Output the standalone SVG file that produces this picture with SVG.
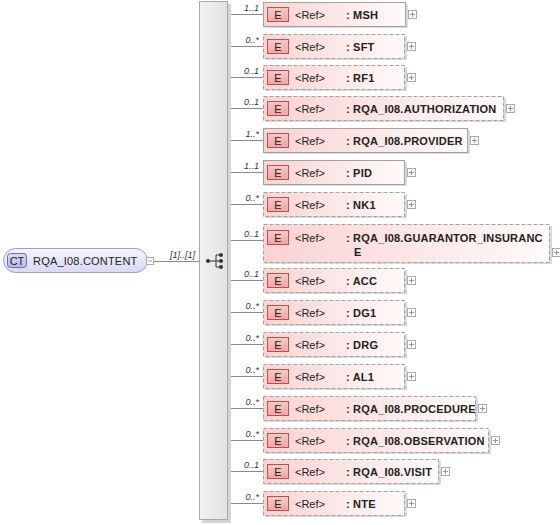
<svg xmlns="http://www.w3.org/2000/svg" width="560" height="525" viewBox="0 0 560 525">
<defs>
<linearGradient id="gEl" x1="0" y1="0" x2="1" y2="0"><stop offset="0" stop-color="#fbd2d2"/><stop offset="1" stop-color="#fffafa"/></linearGradient>
<linearGradient id="gBadge" x1="0" y1="0" x2="0" y2="1"><stop offset="0" stop-color="#f8caca"/><stop offset="1" stop-color="#f2a4a4"/></linearGradient>
<linearGradient id="gCT" x1="0" y1="0" x2="0" y2="1"><stop offset="0" stop-color="#f4f4ff"/><stop offset="1" stop-color="#d8d8f6"/></linearGradient>
<linearGradient id="gCTb" x1="0" y1="0" x2="0" y2="1"><stop offset="0" stop-color="#dcdcf8"/><stop offset="1" stop-color="#b8b8ea"/></linearGradient>
<linearGradient id="gBar" x1="0" y1="0" x2="1" y2="0"><stop offset="0" stop-color="#f2f2f2"/><stop offset="1" stop-color="#e2e2e2"/></linearGradient>
</defs>
<style>
.sh{fill:#d9d9d9}
.box{fill:url(#gEl);stroke:#a2a2a2;stroke-width:1}
.opt{stroke-dasharray:4,2}
.bd{fill:url(#gBadge);stroke:#b05454;stroke-width:1}
.bt{font-family:"Liberation Sans",Arial,sans-serif;font-size:11px;fill:#222;text-anchor:middle}
.ref{font-family:"Liberation Sans",Arial,sans-serif;font-size:11px;fill:#222}
.nm{font-family:"Liberation Sans",Arial,sans-serif;font-size:11px;font-weight:bold;fill:#222;letter-spacing:0.2px}
.mu{font-family:"Liberation Sans",Arial,sans-serif;font-size:9px;font-style:italic;fill:#333;text-anchor:end}
.pl{fill:#fff;stroke:#aaa;stroke-width:1}
.pm{stroke:#999;stroke-width:1}
.ln{stroke:#8a8a8a;stroke-width:1;fill:none}
</style>

<g id="connectors">
<line class="ln" x1="154" y1="261.5" x2="199" y2="261.5"/>
<text class="mu" x="195" y="258">[1]..[1]</text>
<line class="ln" x1="228" y1="14.5" x2="263" y2="14.5"/>
<line class="ln" x1="228" y1="46.5" x2="263" y2="46.5"/>
<line class="ln" x1="228" y1="77.5" x2="263" y2="77.5"/>
<line class="ln" x1="228" y1="108.5" x2="263" y2="108.5"/>
<line class="ln" x1="228" y1="140.5" x2="263" y2="140.5"/>
<line class="ln" x1="228" y1="172.5" x2="263" y2="172.5"/>
<line class="ln" x1="228" y1="204.5" x2="263" y2="204.5"/>
<line class="ln" x1="228" y1="240.5" x2="263" y2="240.5"/>
<line class="ln" x1="228" y1="280.5" x2="263" y2="280.5"/>
<line class="ln" x1="228" y1="312.5" x2="263" y2="312.5"/>
<line class="ln" x1="228" y1="344.5" x2="263" y2="344.5"/>
<line class="ln" x1="228" y1="376.5" x2="263" y2="376.5"/>
<line class="ln" x1="228" y1="408.5" x2="263" y2="408.5"/>
<line class="ln" x1="228" y1="440.5" x2="263" y2="440.5"/>
<line class="ln" x1="228" y1="471.5" x2="263" y2="471.5"/>
<line class="ln" x1="228" y1="503.5" x2="263" y2="503.5"/>
<text class="mu" x="259" y="11">1..1</text>
<text class="mu" x="259" y="43">0..*</text>
<text class="mu" x="259" y="74">0..1</text>
<text class="mu" x="259" y="105">0..1</text>
<text class="mu" x="259" y="137">1..*</text>
<text class="mu" x="259" y="169">1..1</text>
<text class="mu" x="259" y="201">0..*</text>
<text class="mu" x="259" y="237">0..1</text>
<text class="mu" x="259" y="277">0..1</text>
<text class="mu" x="259" y="309">0..*</text>
<text class="mu" x="259" y="341">0..*</text>
<text class="mu" x="259" y="373">0..*</text>
<text class="mu" x="259" y="405">0..*</text>
<text class="mu" x="259" y="437">0..*</text>
<text class="mu" x="259" y="468">0..1</text>
<text class="mu" x="259" y="500">0..*</text>
</g>

<g id="ct">
<rect x="3.5" y="248.5" width="144" height="24" rx="12" fill="url(#gCT)" stroke="#9d9dc9"/>
<rect x="7.5" y="253.5" width="19" height="14" rx="3" fill="url(#gCTb)" stroke="#6e6eae"/>
<text class="bt" x="17" y="264.5">CT</text>
<text class="ref" x="33" y="265" font-size="11.5" letter-spacing="0.2">RQA_I08.CONTENT</text>
<rect x="146.5" y="257.5" width="7" height="7" class="pl"/>
<line class="pm" x1="148" y1="261" x2="152" y2="261"/>
</g>

<g id="sequence">
<rect x="202" y="4" width="29" height="519" fill="#d5d5d5"/>
<rect x="199.5" y="1.5" width="28" height="518" fill="url(#gBar)" stroke="#a8a8a8"/>
<line x1="208" y1="261" x2="216" y2="261" stroke="#333"/>
<line x1="216" y1="255" x2="216" y2="267" stroke="#333"/>
<line x1="216" y1="255" x2="221" y2="255" stroke="#333"/>
<line x1="216" y1="261" x2="221" y2="261" stroke="#333"/>
<line x1="216" y1="267" x2="221" y2="267" stroke="#333"/>
<circle cx="208" cy="261" r="2" fill="#333"/>
<circle cx="221" cy="255" r="2" fill="#333"/>
<circle cx="221" cy="261" r="2" fill="#333"/>
<circle cx="221" cy="267" r="2" fill="#333"/>
</g>

<g id="msh">
<rect class="sh" x="265" y="4" width="143" height="24"/>
<rect class="box" x="263.5" y="2.5" width="142" height="24"/>
<rect class="bd" x="267.5" y="7.5" width="21" height="14"/>
<text class="bt" x="278" y="18.5">E</text>
<text class="ref" x="295" y="18.5">&lt;Ref&gt;</text>
<text class="nm" x="346" y="18.5">: MSH</text>
<rect class="pl" x="408.5" y="10.5" width="8" height="8"/>
<path class="pm" d="M410 14.5h5M412.5 12v5"/>
</g>

<g id="sft">
<rect class="sh" x="265" y="36" width="142" height="24"/>
<rect class="box opt" x="263.5" y="34.5" width="141" height="24"/>
<rect class="bd" x="267.5" y="39.5" width="21" height="14"/>
<text class="bt" x="278" y="50.5">E</text>
<text class="ref" x="295" y="50.5">&lt;Ref&gt;</text>
<text class="nm" x="346" y="50.5">: SFT</text>
<rect class="pl" x="407.5" y="42.5" width="8" height="8"/>
<path class="pm" d="M409 46.5h5M411.5 44v5"/>
</g>

<g id="rf1">
<rect class="sh" x="265" y="67" width="142" height="24"/>
<rect class="box opt" x="263.5" y="65.5" width="141" height="24"/>
<rect class="bd" x="267.5" y="70.5" width="21" height="14"/>
<text class="bt" x="278" y="81.5">E</text>
<text class="ref" x="295" y="81.5">&lt;Ref&gt;</text>
<text class="nm" x="346" y="81.5">: RF1</text>
<rect class="pl" x="407.5" y="73.5" width="8" height="8"/>
<path class="pm" d="M409 77.5h5M411.5 75v5"/>
</g>

<g id="authorization">
<rect class="sh" x="265" y="98" width="241" height="24"/>
<rect class="box opt" x="263.5" y="96.5" width="240" height="24"/>
<rect class="bd" x="267.5" y="101.5" width="21" height="14"/>
<text class="bt" x="278" y="112.5">E</text>
<text class="ref" x="295" y="112.5">&lt;Ref&gt;</text>
<text class="nm" x="346" y="112.5">: RQA_I08.AUTHORIZATION</text>
<rect class="pl" x="506.5" y="104.5" width="8" height="8"/>
<path class="pm" d="M508 108.5h5M510.5 106v5"/>
</g>

<g id="provider">
<rect class="sh" x="265" y="130" width="205" height="24"/>
<rect class="box" x="263.5" y="128.5" width="204" height="24"/>
<rect class="bd" x="267.5" y="133.5" width="21" height="14"/>
<text class="bt" x="278" y="144.5">E</text>
<text class="ref" x="295" y="144.5">&lt;Ref&gt;</text>
<text class="nm" x="346" y="144.5">: RQA_I08.PROVIDER</text>
<rect class="pl" x="470.5" y="136.5" width="8" height="8"/>
<path class="pm" d="M472 140.5h5M474.5 138v5"/>
</g>

<g id="pid">
<rect class="sh" x="265" y="162" width="142" height="24"/>
<rect class="box" x="263.5" y="160.5" width="141" height="24"/>
<rect class="bd" x="267.5" y="165.5" width="21" height="14"/>
<text class="bt" x="278" y="176.5">E</text>
<text class="ref" x="295" y="176.5">&lt;Ref&gt;</text>
<text class="nm" x="346" y="176.5">: PID</text>
<rect class="pl" x="407.5" y="168.5" width="8" height="8"/>
<path class="pm" d="M409 172.5h5M411.5 170v5"/>
</g>

<g id="nk1">
<rect class="sh" x="265" y="194" width="142" height="24"/>
<rect class="box opt" x="263.5" y="192.5" width="141" height="24"/>
<rect class="bd" x="267.5" y="197.5" width="21" height="14"/>
<text class="bt" x="278" y="208.5">E</text>
<text class="ref" x="295" y="208.5">&lt;Ref&gt;</text>
<text class="nm" x="346" y="208.5">: NK1</text>
<rect class="pl" x="407.5" y="200.5" width="8" height="8"/>
<path class="pm" d="M409 204.5h5M411.5 202v5"/>
</g>

<g id="guarantor_insurance">
<rect class="sh" x="265" y="226" width="287" height="38"/>
<rect class="box opt" x="263.5" y="224.5" width="286" height="38"/>
<rect class="bd" x="267.5" y="230.5" width="21" height="14"/>
<text class="bt" x="278" y="241.5">E</text>
<text class="ref" x="295" y="241.5">&lt;Ref&gt;</text>
<text class="nm" x="346" y="241.5">: RQA_I08.GUARANTOR_INSURANC</text>
<text class="nm" x="354" y="256">E</text>
<rect class="pl" x="552.5" y="248.5" width="8" height="8"/>
<path class="pm" d="M554 252.5h5M556.5 250v5"/>
</g>

<g id="acc">
<rect class="sh" x="265" y="270" width="142" height="24"/>
<rect class="box opt" x="263.5" y="268.5" width="141" height="24"/>
<rect class="bd" x="267.5" y="273.5" width="21" height="14"/>
<text class="bt" x="278" y="284.5">E</text>
<text class="ref" x="295" y="284.5">&lt;Ref&gt;</text>
<text class="nm" x="346" y="284.5">: ACC</text>
<rect class="pl" x="407.5" y="276.5" width="8" height="8"/>
<path class="pm" d="M409 280.5h5M411.5 278v5"/>
</g>

<g id="dg1">
<rect class="sh" x="265" y="302" width="142" height="24"/>
<rect class="box opt" x="263.5" y="300.5" width="141" height="24"/>
<rect class="bd" x="267.5" y="305.5" width="21" height="14"/>
<text class="bt" x="278" y="316.5">E</text>
<text class="ref" x="295" y="316.5">&lt;Ref&gt;</text>
<text class="nm" x="346" y="316.5">: DG1</text>
<rect class="pl" x="407.5" y="308.5" width="8" height="8"/>
<path class="pm" d="M409 312.5h5M411.5 310v5"/>
</g>

<g id="drg">
<rect class="sh" x="265" y="334" width="142" height="24"/>
<rect class="box opt" x="263.5" y="332.5" width="141" height="24"/>
<rect class="bd" x="267.5" y="337.5" width="21" height="14"/>
<text class="bt" x="278" y="348.5">E</text>
<text class="ref" x="295" y="348.5">&lt;Ref&gt;</text>
<text class="nm" x="346" y="348.5">: DRG</text>
<rect class="pl" x="407.5" y="340.5" width="8" height="8"/>
<path class="pm" d="M409 344.5h5M411.5 342v5"/>
</g>

<g id="al1">
<rect class="sh" x="265" y="366" width="142" height="24"/>
<rect class="box opt" x="263.5" y="364.5" width="141" height="24"/>
<rect class="bd" x="267.5" y="369.5" width="21" height="14"/>
<text class="bt" x="278" y="380.5">E</text>
<text class="ref" x="295" y="380.5">&lt;Ref&gt;</text>
<text class="nm" x="346" y="380.5">: AL1</text>
<rect class="pl" x="407.5" y="372.5" width="8" height="8"/>
<path class="pm" d="M409 376.5h5M411.5 374v5"/>
</g>

<g id="procedure">
<rect class="sh" x="265" y="398" width="213" height="24"/>
<rect class="box opt" x="263.5" y="396.5" width="212" height="24"/>
<rect class="bd" x="267.5" y="401.5" width="21" height="14"/>
<text class="bt" x="278" y="412.5">E</text>
<text class="ref" x="295" y="412.5">&lt;Ref&gt;</text>
<text class="nm" x="346" y="412.5">: RQA_I08.PROCEDURE</text>
<rect class="pl" x="478.5" y="404.5" width="8" height="8"/>
<path class="pm" d="M480 408.5h5M482.5 406v5"/>
</g>

<g id="observation">
<rect class="sh" x="265" y="430" width="226" height="24"/>
<rect class="box opt" x="263.5" y="428.5" width="225" height="24"/>
<rect class="bd" x="267.5" y="433.5" width="21" height="14"/>
<text class="bt" x="278" y="444.5">E</text>
<text class="ref" x="295" y="444.5">&lt;Ref&gt;</text>
<text class="nm" x="346" y="444.5">: RQA_I08.OBSERVATION</text>
<rect class="pl" x="491.5" y="436.5" width="8" height="8"/>
<path class="pm" d="M493 440.5h5M495.5 438v5"/>
</g>

<g id="visit">
<rect class="sh" x="265" y="461" width="176" height="24"/>
<rect class="box opt" x="263.5" y="459.5" width="175" height="24"/>
<rect class="bd" x="267.5" y="464.5" width="21" height="14"/>
<text class="bt" x="278" y="475.5">E</text>
<text class="ref" x="295" y="475.5">&lt;Ref&gt;</text>
<text class="nm" x="346" y="475.5">: RQA_I08.VISIT</text>
<rect class="pl" x="441.5" y="467.5" width="8" height="8"/>
<path class="pm" d="M443 471.5h5M445.5 469v5"/>
</g>

<g id="nte">
<rect class="sh" x="265" y="493" width="142" height="24"/>
<rect class="box opt" x="263.5" y="491.5" width="141" height="24"/>
<rect class="bd" x="267.5" y="496.5" width="21" height="14"/>
<text class="bt" x="278" y="507.5">E</text>
<text class="ref" x="295" y="507.5">&lt;Ref&gt;</text>
<text class="nm" x="346" y="507.5">: NTE</text>
<rect class="pl" x="407.5" y="499.5" width="8" height="8"/>
<path class="pm" d="M409 503.5h5M411.5 501v5"/>
</g>
</svg>
